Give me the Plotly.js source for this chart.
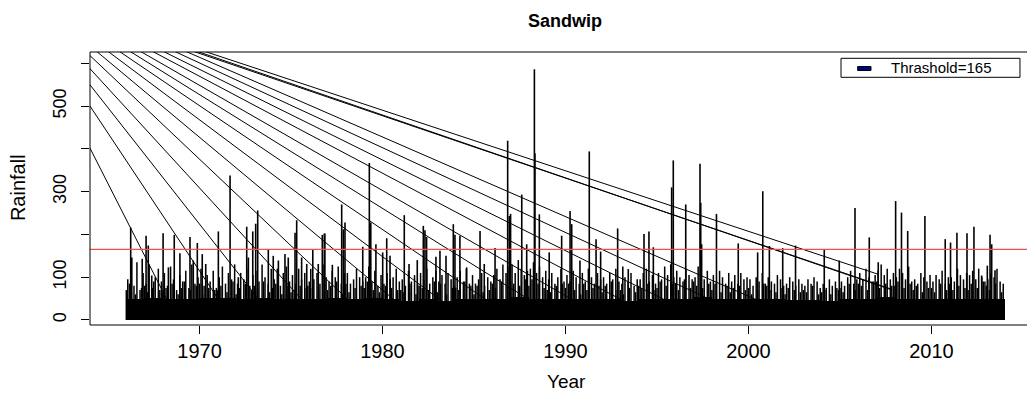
<!DOCTYPE html>
<html><head><meta charset="utf-8">
<script src="https://cdn.plot.ly/plotly-3.0.1.min.js"></script>
<style>html,body{margin:0;padding:0;background:#fff}</style>
</head><body><div id="chart" style="width:1027px;height:394px"></div>
<script>
// ---- data ----
const floorYears = [1966,1967,1968,1969,1970,1971,1972,1973,1974,1975,1976,1977,1978,1979,1980,1981,1982,1983,1984,1985,1986,1987,1988,1989,1990,1991,1992,1993,1994,1995,1996,1997,1998,1999,2000,2001,2002,2003,2004,2005,2006,2007,2008,2009,2010,2011,2012,2013];
const floorValues = [48,52,48,48,52,52,50,52,50,50,48,52,50,52,48,44,48,44,50,48,48,54,50,48,48,50,48,44,48,50,50,54,48,48,48,50,46,46,44,48,50,54,50,48,48,48,48,50];

// dense hair lines: six per year at fixed offsets within the year
const hairOffsets = [0.08,0.25,0.42,0.58,0.75,0.92];
const hairValues = [
 [95,120,80,135,70,110],[85,130,75,100,120,90],[110,80,125,95,70,105],[90,115,75,130,85,100],
 [120,80,105,90,115,75],[100,125,85,110,95,130],[85,110,95,120,80,105],[115,90,130,100,85,120],
 [95,120,80,110,125,90],[105,85,120,95,110,80],[120,95,110,85,130,100],[90,115,100,125,85,110],
 [110,85,95,120,100,90],[100,125,90,115,80,105],[85,110,95,100,120,90],[95,80,115,90,105,85],
 [110,95,120,85,100,115],[90,105,85,110,95,80],[100,115,90,120,85,105],[85,95,110,80,100,90],
 [105,120,95,130,110,125],[130,110,140,120,105,115],[120,135,110,125,100,115],[95,110,85,100,120,90],
 [105,90,115,100,85,110],[90,120,100,85,110,95],[100,85,110,95,120,90],[85,100,90,110,80,95],
 [95,110,120,90,105,85],[110,95,125,105,130,100],[115,100,90,120,105,95],[100,125,110,95,115,90],
 [105,90,115,100,85,110],[90,105,85,110,95,100],[95,80,100,90,110,85],[100,90,85,105,95,80],
 [85,100,90,80,95,85],[80,95,85,100,90,75],[85,75,95,80,90,70],[90,80,100,115,85,95],
 [110,95,120,100,90,105],[115,130,105,120,95,110],[100,120,110,95,125,90],[95,85,110,100,90,105],
 [90,105,95,115,85,100],[100,90,120,105,95,110],[105,115,95,120,100,90],[95,110,100,120,90,85]
];
// lower hair lines in between: four per year
const hairOffsets2 = [0.00,0.17,0.50,0.83];
const hairValues2 = [
 [70,85,60,75],[80,65,90,70],[65,75,85,60],[75,90,70,80],[85,60,75,70],[70,80,65,90],
 [60,75,85,70],[80,70,90,65],[75,85,60,80],[65,70,80,75],[90,75,65,85],[70,80,90,60],
 [85,65,75,80],[75,90,70,65],[60,80,75,70],[70,65,85,60],[80,75,70,90],[65,85,60,75],
 [75,70,90,80],[60,80,65,70],[85,75,90,80],[90,85,80,95],[80,95,85,75],[70,65,80,85],
 [75,85,70,60],[85,70,75,80],[65,80,90,70],[70,60,75,65],[80,75,85,70],[75,90,80,85],
 [85,70,95,75],[90,80,75,85],[70,85,65,80],[65,75,80,70],[75,60,70,85],[80,70,65,75],
 [60,75,70,65],[70,65,80,60],[65,70,60,75],[75,65,85,70],[85,80,70,90],[90,75,85,80],
 [80,90,75,85],[70,80,65,75],[75,65,85,70],[85,70,80,75],[70,85,75,90],[80,70,85,65]
];

const spikeYears = [1966.24,1966.30,1966.87,1967.08,1967.20,1967.39,1968.01,1968.30,1968.62,1968.93,1969.48,1969.66,1969.88,1970.15,1970.34,1971.03,1971.67,1972.12,1972.58,1972.67,1972.91,1973.07,1973.18,1973.76,1974.03,1974.31,1974.67,1974.85,1975.22,1975.31,1975.58,1975.86,1976.19,1976.49,1976.71,1976.82,1976.85,1977.26,1977.77,1977.86,1977.95,1978.92,1979.28,1979.36,1979.64,1980.01,1980.23,1980.41,1981.19,1981.45,1981.90,1982.23,1982.32,1982.41,1982.92,1983.14,1983.47,1983.87,1983.96,1984.23,1984.60,1985.33,1985.56,1986.15,1986.84,1986.93,1987.00,1987.61,1987.88,1988.30,1988.33,1988.57,1989.11,1989.79,1990.25,1990.34,1990.79,1991.30,1991.67,1991.92,1992.85,1993.13,1993.43,1994.29,1994.56,1994.80,1995.80,1995.89,1996.57,1997.35,1997.39,1997.44,1998.25,1999.44,2000.50,2000.78,2001.14,2001.87,2002.57,2004.14,2004.96,2005.82,2006.60,2007.09,2008.04,2008.36,2008.70,2009.64,2010.75,2011.04,2011.39,2011.94,2012.32,2012.74,2013.05,2013.20,2013.29,2013.47];
const spikeValues = [216,146,143,197,174,104,203,123,199,156,194,139,180,154,131,207,338,100,218,146,207,225,256,166,150,139,154,146,204,233,146,131,164,131,199,202,202,129,270,212,228,171,367,228,177,158,191,150,245,131,140,220,210,194,148,162,150,224,199,197,123,208,131,168,419,243,248,293,177,586,390,247,158,197,255,224,139,394,189,160,214,125,119,201,207,170,310,373,270,365,274,177,248,179,158,301,173,168,174,166,139,262,193,135,278,251,208,243,189,181,204,203,218,104,127,199,177,116];

// straight lines running down to the right: each passes through (fanCrossYears, fanCrossValue)
// and ends at (fanEndYears, fanEndValues); drawn back up past the plot's top-left edge
const fanCrossValue = 371;
const fanCrossYears = [1964.38,1966.02,1967.30,1968.66,1970.12,1971.57,1973.03,1974.49,1975.86,1977.22,1978.77,1980.14,1981.60,1983.05,1987.30,1987.36,1988.43];
const fanEndYears   = [1968.43,1971.32,1973.57,1975.98,1978.55,1981.12,1983.69,1986.27,1988.68,1991.09,1993.82,1996.23,1998.81,2001.37,2007.82,2007.85,2007.08];
const fanEndValues  = [30,30,30,30,30,30,30,30,30,30,30,30,30,30,72,70,107];

const threshold = 165;
const xTicks = [1970,1980,1990,2000,2010];
const yTicks = [0,100,200,300,400,500,600];
const yTickText = ['0','100','','300','','500',''];

// ---- traces ----
const floorTrace = {type:'bar', x: floorYears.map(v=>v+0.5), y: floorValues, width: 1,
  marker:{color:'#000', line:{width:0}}, hoverinfo:'skip', showlegend:false};

const hx=[], hy=[];
floorYears.forEach((yr,i)=>{
  hairOffsets.forEach((o,j)=>{ hx.push(yr+o,yr+o,null); hy.push(0,hairValues[i][j],null); });
  hairOffsets2.forEach((o,j)=>{ hx.push(yr+o,yr+o,null); hy.push(0,hairValues2[i][j],null); });
});
const hairTrace = {type:'scatter', mode:'lines', x:hx, y:hy, line:{color:'#000', width:1.5}, hoverinfo:'skip', showlegend:false};

const sx=[], sy=[];
spikeYears.forEach((yr,i)=>{ sx.push(yr,yr,null); sy.push(0,spikeValues[i],null); });
const spikeTrace = {type:'scatter', mode:'lines', x:sx, y:sy, line:{color:'#000', width:1.6}, hoverinfo:'skip', showlegend:false};

const fx=[], fy=[];
fanCrossYears.forEach((cy,i)=>{
  const ex = fanEndYears[i], ev = fanEndValues[i];
  const k = 3;
  fx.push(ex + k*(cy-ex), ex, null); fy.push(ev + k*(fanCrossValue-ev), ev, null);
});
const fanTrace = {type:'scatter', mode:'lines', x:fx, y:fy, line:{color:'#000', width:1}, hoverinfo:'skip', showlegend:false};

const font = 'Liberation Sans, Arial, sans-serif';
const layout = {
  width:1027, height:394, margin:{l:90, r:0, t:52, b:69},
  paper_bgcolor:'#fff', plot_bgcolor:'#fff', bargap:0, showlegend:false,
  font:{family:font, color:'#000'},
  xaxis:{range:[1964.016, 2015.219], tickvals:xTicks, ticks:'outside', ticklen:8, tickcolor:'#000', tickwidth:1,
    showgrid:false, zeroline:false, showline:false, tickfont:{size:20, family:font}, ticklabelstandoff:0},
  yaxis:{range:[-11.7, 626.4], tickvals:yTicks, ticktext:yTickText, ticks:'outside', ticklen:8, tickcolor:'#000', tickwidth:1,
    tickangle:-90, showgrid:false, zeroline:false, showline:false, tickfont:{size:18, family:font}, ticklabelstandoff:8},
  shapes:[
    {type:'line', xref:'x', yref:'y', x0:1964.016, x1:2015.219, y0:threshold, y1:threshold, line:{color:'#f05050', width:1.2}},
    {type:'line', xref:'paper', yref:'paper', x0:0, x1:0, y0:0, y1:1, line:{color:'#000', width:1}},
    {type:'line', xref:'paper', yref:'paper', x0:0, x1:1.01, y0:1, y1:1, line:{color:'#000', width:1}},
    {type:'line', xref:'paper', yref:'paper', x0:0, x1:1.01, y0:0, y1:0, line:{color:'#000', width:1}},
    {type:'rect', xref:'paper', yref:'paper', x0:0.8015, x1:0.9925, y0:0.9073, y1:0.9769, fillcolor:'#fff', line:{color:'#000', width:1}},
    {type:'rect', xref:'paper', yref:'paper', x0:0.8193, x1:0.8335, y0:0.9322, y1:0.9469, fillcolor:'#000080', line:{color:'#000', width:1}}
  ],
  annotations:[
    {text:'<b>Sandwip</b>', xref:'paper', yref:'paper', x:0.5069, y:1.1136, xanchor:'center', yanchor:'middle', showarrow:false, font:{size:18, family:font}},
    {text:'Year', xref:'paper', yref:'paper', x:0.5086, y:-0.208, xanchor:'center', yanchor:'middle', showarrow:false, font:{size:19, family:font}},
    {text:'Rainfall', xref:'paper', yref:'paper', x:-0.0762, y:0.5037, xanchor:'center', yanchor:'middle', textangle:-90, showarrow:false, font:{size:20, family:font}},
    {text:'Thrashold=165', xref:'paper', yref:'paper', x:0.8527, y:0.9421, xanchor:'left', yanchor:'middle', showarrow:false, font:{size:15, family:font}}
  ]
};
Plotly.newPlot('chart', [floorTrace, hairTrace, spikeTrace, fanTrace], layout, {staticPlot:true, displayModeBar:false});
</script></body></html>
